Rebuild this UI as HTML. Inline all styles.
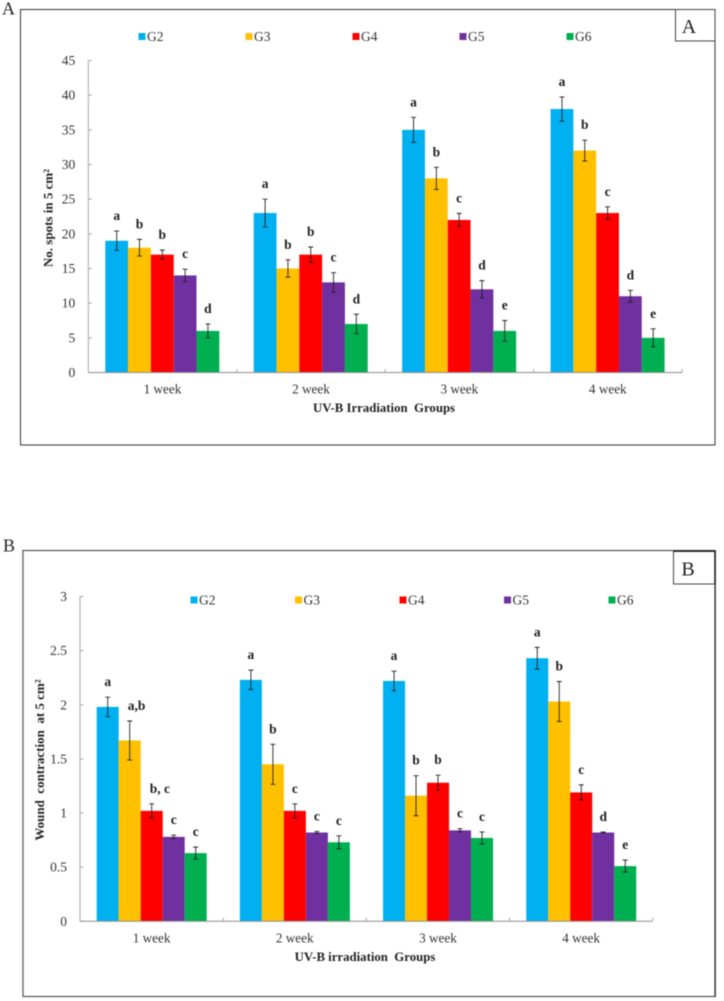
<!DOCTYPE html>
<html lang="en">
<head>
<meta charset="utf-8">
<title>UV-B irradiation charts</title>
<style>
html,body{margin:0;padding:0;background:#fff;width:724px;height:1001px;overflow:hidden}
svg{display:block;filter:blur(0.4px)}
text{font-family:"Liberation Serif","Times New Roman",serif;fill:#333;white-space:pre}
.b{font-weight:bold;fill:#222}
</style>
</head>
<body>
<svg id="figure" width="724" height="1001" viewBox="0 0 724 1001" xmlns="http://www.w3.org/2000/svg">
  <rect width="724" height="1001" fill="#fff"/>
  <text x="2" y="14.5" font-size="18" style="fill:#222">A</text>
  <text x="3" y="551.5" font-size="18" style="fill:#222">B</text>
  <rect x="20.5" y="9.5" width="694.5" height="435.5" fill="none" stroke="#333" stroke-width="1"/>
  <rect x="23" y="550.5" width="692" height="446" fill="none" stroke="#555" stroke-width="1.2"/>
  <line x1="715.2" y1="550.5" x2="715.2" y2="997" stroke="#111" stroke-width="1"/>
  <rect x="675.5" y="9.5" width="39.5" height="31.5" fill="#fff" stroke="#444" stroke-width="1"/>
  <text x="689" y="33" font-size="20" text-anchor="middle" style="fill:#222">A</text>
  <rect x="673.5" y="551" width="41.5" height="33" fill="#fff" stroke="#444" stroke-width="1"/>
  <path d="M673.5 551.2H715V584" fill="none" stroke="#111" stroke-width="1.4"/>
  <text x="688" y="575.5" font-size="20" text-anchor="middle" style="fill:#222">B</text>
  <g id="chart-a"></g>
  <g id="chart-b"></g>
</svg>
<script>
const weeks = ['1 week', '2 week', '3 week', '4 week'];
const groups = ['G2', 'G3', 'G4', 'G5', 'G6'];

const spotsTicks = [0, 5, 10, 15, 20, 25, 30, 35, 40, 45];
const spotsG2 = [19, 23, 35, 38];
const spotsG3 = [18, 15, 28, 32];
const spotsG4 = [17, 17, 22, 23];
const spotsG5 = [14, 13, 12, 11];
const spotsG6 = [6, 7, 6, 5];
const spotsErrG2 = [1.4, 2, 1.8, 1.75];
const spotsErrG3 = [1.2, 1.25, 1.6, 1.5];
const spotsErrG4 = [0.65, 1.1, 0.95, 0.9];
const spotsErrG5 = [0.9, 1.4, 1.25, 0.85];
const spotsErrG6 = [1, 1.4, 1.5, 1.3];
const spotsLettersG2 = ['a', 'a', 'a', 'a'];
const spotsLettersG3 = ['b', 'b', 'b', 'b'];
const spotsLettersG4 = ['b', 'b', 'c', 'c'];
const spotsLettersG5 = ['c', 'c', 'd', 'd'];
const spotsLettersG6 = ['d', 'd', 'e', 'e'];

const woundTicks = [0, 0.5, 1, 1.5, 2, 2.5, 3];
const woundG2 = [1.98, 2.23, 2.22, 2.43];
const woundG3 = [1.67, 1.45, 1.16, 2.03];
const woundG4 = [1.02, 1.02, 1.28, 1.19];
const woundG5 = [0.78, 0.82, 0.84, 0.82];
const woundG6 = [0.63, 0.73, 0.77, 0.51];
const woundErrG2 = [0.09, 0.09, 0.09, 0.1];
const woundErrG3 = [0.18, 0.185, 0.185, 0.185];
const woundErrG4 = [0.065, 0.065, 0.07, 0.07];
const woundErrG5 = [0.015, 0.01, 0.015, 0.005];
const woundErrG6 = [0.055, 0.06, 0.055, 0.055];
const woundLettersG2 = ['a', 'a', 'a', 'a'];
const woundLettersG3 = ['a,b', 'b', 'b', 'b'];
const woundLettersG4 = ['b, c', 'c', 'b', 'c'];
const woundLettersG5 = ['c', 'c', 'c', 'd'];
const woundLettersG6 = ['c', 'c', 'c', 'e'];

const groupColors = ['#00B0F0', '#FFC000', '#FF0000', '#7030A0', '#00B050'];
const SVG_NS = 'http://www.w3.org/2000/svg';

function shape(parent, tag, props, content) {
  const node = document.createElementNS(SVG_NS, tag);
  Object.keys(props).forEach(function (k) { node.setAttribute(k, props[k]); });
  if (content !== undefined) node.textContent = content;
  parent.appendChild(node);
  return node;
}

function drawChart(root, cfg) {
  const yScale = function (v) { return cfg.y0 - (v / cfg.yMax) * (cfg.y0 - cfg.yTop); };
  const step = (cfg.xEnd - cfg.x0) / weeks.length;
  const bandStart = function (w) { return cfg.firstBar + w * step; };

  const yAxis = shape(root, 'line', { x1: cfg.x0, y1: cfg.yTop, x2: cfg.x0, y2: cfg.y0, stroke: '#a6a6a6', 'stroke-width': 1 });
  
  

  cfg.ticks.forEach(function (t) {
    const y = yScale(t);
    const tick = shape(root, 'line', { x1: cfg.x0, y1: y, x2: cfg.x0 + 3.5, y2: y, stroke: '#a6a6a6', 'stroke-width': 1 });
    
    
    const label = shape(root, 'text', { x: cfg.x0 - 13, y: y + 4.5, 'font-size': 13.5, 'text-anchor': 'end' }, String(t));
    
    
  });

  weeks.forEach(function (week, w) {
    groups.forEach(function (g, s) {
      const value = cfg.values[s][w];
      const left = bandStart(w) + s * cfg.barWidth;
      const bar = shape(root, 'rect', { x: left, y: yScale(value), width: cfg.barWidth, height: cfg.y0 - yScale(value), fill: groupColors[s] });
      
      
    });
  });

  const xAxis = shape(root, 'line', { x1: cfg.x0, y1: cfg.y0, x2: cfg.xEnd, y2: cfg.y0, stroke: '#8c8c8c', 'stroke-width': 1 });
  
  

  weeks.forEach(function (week, w) {
    const tx = cfg.x0 + (w + 1) * step;
    const xTick = shape(root, 'line', { x1: tx, y1: cfg.y0, x2: tx, y2: cfg.y0 - 3.5, stroke: '#a6a6a6', 'stroke-width': 1 });
    
    
    const weekLabel = shape(root, 'text', { x: cfg.x0 + (w + 0.5) * step, y: cfg.y0 + 21, 'font-size': 13.2, 'text-anchor': 'middle' }, week);
    
    

    groups.forEach(function (g, s) {
      const value = cfg.values[s][w];
      const err = cfg.errors[s][w];
      const cx = bandStart(w) + s * cfg.barWidth + cfg.barWidth / 2;
      const yHi = yScale(value + err);
      const yLo = yScale(value - err);
      const whisker = shape(root, 'path', {
        d: 'M' + (cx - 2.5) + ' ' + yHi + 'H' + (cx + 2.5) + 'M' + cx + ' ' + yHi + 'V' + yLo + 'M' + (cx - 2.5) + ' ' + yLo + 'H' + (cx + 2.5),
        fill: 'none', stroke: '#222', 'stroke-width': 0.9
      });
      
      

      const letter = cfg.letters[s][w];
      const wide = letter.length > 1;
      const sig = shape(root, 'text', {
        x: wide ? cx - 2 : cx,
        y: yHi - 11,
        'font-size': 13.5,
        'text-anchor': wide ? 'start' : 'middle',
        class: 'b'
      }, letter);
      
      
    });
  });

  groups.forEach(function (g, s) {
    const lx = cfg.legendX + s * cfg.legendStep;
    const swatch = shape(root, 'rect', { x: lx, y: cfg.legendY - 3.5, width: 7, height: 7, fill: groupColors[s] });
    
    
    const legendText = shape(root, 'text', { x: lx + 8.5, y: cfg.legendY + 4.5, 'font-size': 13.5 }, g);
    
    
  });

  const xTitle = shape(root, 'text', { x: cfg.xTitleX, y: cfg.xTitleY, 'font-size': 12.8, 'text-anchor': 'middle', class: 'b' }, cfg.xTitle);
  
  

  const yTitle = shape(root, 'text', {
    x: 0, y: 0, 'font-size': 13, 'text-anchor': 'middle', class: 'b',
    transform: 'translate(' + cfg.yTitleX + ' ' + cfg.yTitleY + ') rotate(-90)'
  }, cfg.yTitle);
  
  
}

drawChart(document.getElementById('chart-a'), {
  x0: 88.3, xEnd: 682, y0: 372.5, yTop: 60.5, yMax: 45,
  firstBar: 105.3, barWidth: 22.8,
  ticks: spotsTicks,
  values: [spotsG2, spotsG3, spotsG4, spotsG5, spotsG6],
  errors: [spotsErrG2, spotsErrG3, spotsErrG4, spotsErrG5, spotsErrG6],
  letters: [spotsLettersG2, spotsLettersG3, spotsLettersG4, spotsLettersG5, spotsLettersG6],
  legendX: 138.5, legendStep: 107, legendY: 36.5,
  xTitle: 'UV-B Irradiation  Groups', xTitleX: 384, xTitleY: 412,
  yTitle: 'No. spots in 5 cm\u00B2', yTitleX: 52.5, yTitleY: 218
});

drawChart(document.getElementById('chart-b'), {
  x0: 80, xEnd: 652.7, y0: 921.3, yTop: 596.5, yMax: 3,
  firstBar: 96.7, barWidth: 22,
  ticks: woundTicks,
  values: [woundG2, woundG3, woundG4, woundG5, woundG6],
  errors: [woundErrG2, woundErrG3, woundErrG4, woundErrG5, woundErrG6],
  letters: [woundLettersG2, woundLettersG3, woundLettersG4, woundLettersG5, woundLettersG6],
  legendX: 190.5, legendStep: 104.5, legendY: 600,
  xTitle: 'UV-B irradiation  Groups', xTitleX: 365, xTitleY: 961,
  yTitle: 'Wound  contraction  at 5 cm\u00B2', yTitleX: 44, yTitleY: 760
});
</script>
</body>
</html>
